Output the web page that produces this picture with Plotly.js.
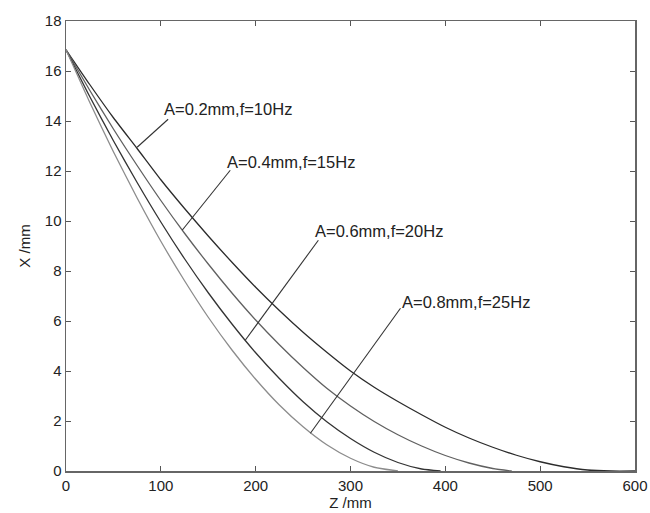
<!DOCTYPE html>
<html>
<head>
<meta charset="utf-8">
<script src="https://cdn.plot.ly/plotly-3.0.1.min.js"></script>
<style>html,body{margin:0;padding:0;background:#fff;}#chart{width:650px;height:513px;}</style>
</head>
<body>
<div id="chart"></div>
<script>
// Z positions (mm) at which curves were read
const z1 = [0,25,50,75,100,125,150,175,200,225,250,275,300,325,350,375,400,425,450,475,500,525,550,575,600];
const x1 = [16.85,15.46,14.13,12.9,11.65,10.5,9.4,8.35,7.35,6.42,5.55,4.75,4.0,3.35,2.78,2.25,1.75,1.32,0.95,0.63,0.37,0.17,0.04,0,0];

const z2 = [0,25,50,75,100,125,150,175,200,225,250,275,300,325,350,375,400,425,450,470];
const x2 = [16.85,15.23,13.68,12.22,10.82,9.51,8.28,7.12,6.04,5.05,4.14,3.31,2.6,1.98,1.45,1.0,0.62,0.32,0.1,0];

const z3 = [0,25,50,75,100,125,150,175,200,225,250,275,300,325,350,375,395];
const x3 = [16.85,14.98,13.21,11.54,9.96,8.49,7.13,5.88,4.73,3.7,2.77,1.97,1.3,0.75,0.34,0.08,0];

const z4 = [0,25,50,75,100,125,150,175,200,225,250,275,300,325,350];
const x4 = [16.85,14.75,12.77,10.92,9.19,7.61,6.15,4.84,3.67,2.64,1.77,1.05,0.51,0.15,0];

const seriesLabels = ["A=0.2mm,f=10Hz","A=0.4mm,f=15Hz","A=0.6mm,f=20Hz","A=0.8mm,f=25Hz"];
const xTicks = [0,100,200,300,400,500,600];
const yTicks = [0,2,4,6,8,10,12,14,16,18];

const colors = ["#2b2b2b","#606060","#333333","#8c8c8c"];
const zs = [z1,z2,z3,z4], xs = [x1,x2,x3,x4];
const traces = zs.map((z,i)=>({
  x: z, y: xs[i], type:'scatter', mode:'lines', name: seriesLabels[i],
  line:{color:colors[i], width:1.3, shape:'spline', smoothing:0.6}
}));

// label positions (data coords) and leader line endpoints
const labelPos = [[101.4,14.47],[167.9,12.35],[260.8,9.59],[352.7,6.75]];
const leaders = [[107.7,14.07,75,12.95],[173.2,12.03,122.5,9.63],[266.1,9.23,189,5.23],[352.7,6.51,257.7,1.51]];

const annotations = seriesLabels.map((t,i)=>({
  x: labelPos[i][0], y: labelPos[i][1], xref:'x', yref:'y', text:t, showarrow:false,
  xanchor:'left', yanchor:'middle', font:{family:'Arial, Liberation Sans, sans-serif', size:16.5, color:'#222'}
}));
const shapes = leaders.map(l=>({type:'line', xref:'x', yref:'y', x0:l[0], y0:l[1], x1:l[2], y1:l[3],
  line:{color:'#333', width:1.1}}));

const axisCommon = {
  showgrid:false, zeroline:false, showline:true, mirror:'ticks', linecolor:'#666', linewidth:1.5,
  ticks:'inside', ticklen:5, tickcolor:'#555', tickwidth:1,
  tickfont:{family:'Arial, Liberation Sans, sans-serif', size:15, color:'#222'}
};

const layout = {
  width:650, height:513,
  margin:{l:66, r:15, t:21, b:42, pad:0},
  paper_bgcolor:'#fff', plot_bgcolor:'#fff',
  showlegend:false,
  xaxis: Object.assign({}, axisCommon, {range:[0,600], tickvals:xTicks, ticktext:xTicks.map(String),
    title:{text:'Z /mm', font:{family:'Arial, Liberation Sans, sans-serif', size:15, color:'#222'}, standoff:2}}),
  yaxis: Object.assign({}, axisCommon, {range:[0,18], tickvals:yTicks, ticktext:yTicks.map(String),
    title:{text:'X /mm', font:{family:'Arial, Liberation Sans, sans-serif', size:15, color:'#222'}, standoff:10}}),
  annotations: annotations,
  shapes: shapes
};

Plotly.newPlot('chart', traces, layout, {displayModeBar:false, staticPlot:true});
</script>
</body>
</html>
